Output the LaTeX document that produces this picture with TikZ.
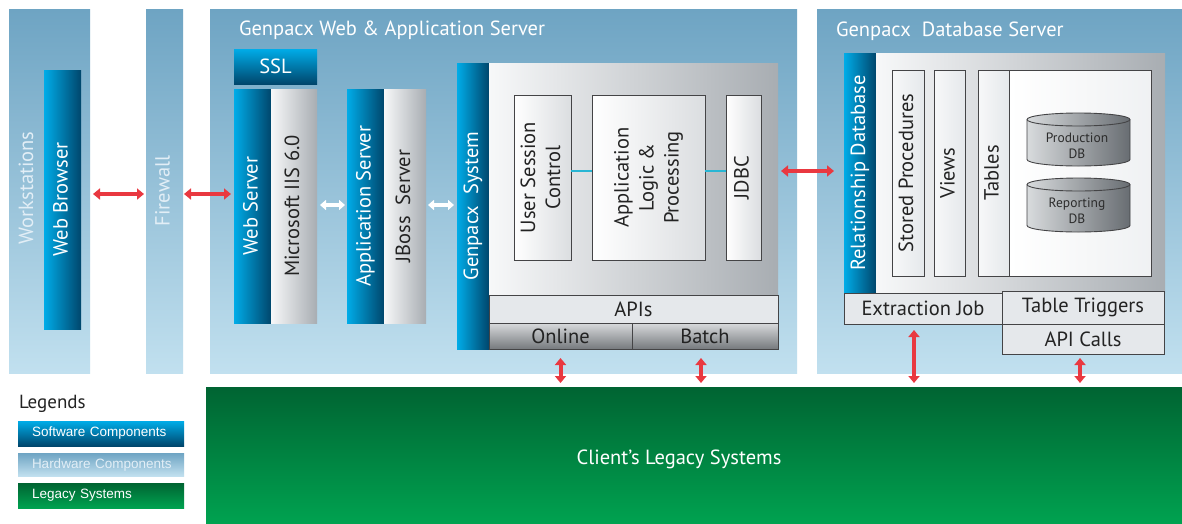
\documentclass[tikz,border=0pt]{standalone}
\usepackage{fontspec}
\setmainfont{PT Sans}
\newfontfamily\legendfont{Liberation Sans}
\usetikzlibrary{positioning,arrows.meta,shadings}

\definecolor{hwtop}{RGB}{110,164,195}
\definecolor{hwbot}{RGB}{193,224,239}
\definecolor{hwtext}{RGB}{226,238,246}
\definecolor{swlight}{RGB}{0,172,232}
\definecolor{swdark}{RGB}{0,70,108}
\definecolor{grlight}{RGB}{247,248,249}
\definecolor{grdark}{RGB}{168,173,178}
\definecolor{boxline}{RGB}{68,68,70}
\definecolor{txtdark}{RGB}{35,35,35}
\definecolor{boxlight}{RGB}{229,232,235}
\definecolor{modetop}{RGB}{216,218,220}
\definecolor{modebot}{RGB}{118,122,126}
\definecolor{legtop}{RGB}{0,100,50}
\definecolor{legbot}{RGB}{0,162,80}
\definecolor{arrred}{RGB}{233,56,64}
\definecolor{linkcyan}{RGB}{40,182,212}
\definecolor{cyllight}{RGB}{216,219,221}
\definecolor{cyldark}{RGB}{104,109,114}

\newcommand{\vlabel}[1]{\rotatebox{90}{\begin{tabular}{@{}c@{}}#1\end{tabular}}}
% drum: centre x, top y, bottom y
\newcommand{\dbdrum}[3]{%
  \path[dbcyl] (#1-51.5,#2+6.5) -- (#1-51.5,#3-6.5)
    arc[start angle=180, end angle=0, x radius=51.5, y radius=6.5] -- (#1+51.5,#2+6.5)
    arc[start angle=0, end angle=-180, x radius=51.5, y radius=6.5] -- cycle;
  \draw[boxline, line width=0.9pt] (#1-51.5,#2+6.5)
    arc[start angle=180, end angle=0, x radius=51.5, y radius=6.5];}

\tikzset{
  every node/.style={inner sep=0pt, outer sep=0pt, font=\fontsize{20.5}{25}\selectfont},
  sz/.style 2 args={minimum width=#1pt, minimum height=#2pt},
  hwpanel/.style={top color=hwtop, bottom color=hwbot, anchor=north west, text=hwtext},
  swbar/.style={left color=swlight, right color=swdark, anchor=north west, text=white},
  swtop/.style={top color=swlight, bottom color=swdark, anchor=north west, text=white},
  grbar/.style={left color=grlight, right color=grdark, anchor=north west, text=txtdark},
  wbox/.style={draw=boxline, line width=0.9pt, left color=white, right color=boxlight!90!gray, anchor=north west, text=txtdark},
  tbox/.style={draw=boxline, line width=0.9pt, left color=white!70!boxlight, right color=boxlight, anchor=north west, text=txtdark},
  apibox/.style={draw=boxline, line width=0.9pt, fill=boxlight, anchor=north west, text=txtdark},
  modebox/.style={draw=boxline, line width=0.9pt, top color=modetop, bottom color=modebot, anchor=north west, text=txtdark},
  dbcyl/.style={draw=boxline, line width=0.9pt, left color=cyllight, right color=cyldark},
  cyltext/.style={align=center, text=txtdark!90!gray, font=\fontsize{13.5}{16.5}\selectfont},
  legacybox/.style={top color=legtop, bottom color=legbot, anchor=north west},
  legitem/.style={anchor=north west, text width=166pt, align=left, text=white,
    execute at begin node=\hspace*{14pt}, font=\legendfont\fontsize{13.5}{16}\selectfont},
  redlink/.style={{Triangle[length=7pt,width=11pt]}-{Triangle[length=7pt,width=11pt]}, line width=4pt, arrred},
  whitelink/.style={{Triangle[length=6pt,width=10pt]}-{Triangle[length=6pt,width=10pt]}, line width=4pt, white},
  cyanlink/.style={line width=1.2pt, linkcyan}
}

\begin{document}
\begin{tikzpicture}[x=1pt, y=-1pt]
\useasboundingbox[fill=white] (0,0) rectangle (1182,523);

% hardware panels
\node[hwpanel, sz={81}{364}] (ws) at (9,9) {};
\node[text=hwtext] (wstxt) at (26,188) {\rotatebox{90}{Workstations}};
\node[swbar, sz={37}{259}] (browser) at (44,70) {\vlabel{Web Browser}};
\node[hwpanel, sz={37}{364}] (fw) at (146,9) {\vlabel{Firewall}};
\node[hwpanel, sz={587}{364}] (was) at (210,9) {};
\node[hwpanel, sz={365}{364}] (dbs) at (817,9) {};
\node[anchor=west, text=white] (wastitle) at (239,30) {Genpacx Web \& Application Server};
\node[anchor=west, text=white] (dbstitle) at (836,31) {Genpacx\ \ Database Server};

% web and application servers
\node[swtop, sz={83}{35}] (ssl) at (234,49) {SSL};
\node[swbar, sz={37}{234}] (websrv) at (234,89) {\vlabel{Web Server}};
\node[grbar, sz={46}{234}, right=0pt of websrv] (iis) {\vlabel{Microsoft IIS 6.0}};
\node[swbar, sz={37}{234}] (appsrv) at (347,89) {\vlabel{Application Server}};
\node[grbar, sz={42}{234}, right=0pt of appsrv] (jboss) {\vlabel{JBoss\ \ Server}};

% genpacx system
\node[swbar, sz={32}{286}] (gsys) at (457,63) {\vlabel{Genpacx\ \ System}};
\node[grbar, sz={289}{232}] (core) at (489,63) {};
\node[wbox, sz={57}{165}] (usc) at (514,95) {\vlabel{User Session\\Control}};
\node[wbox, sz={113}{165}] (alp) at (592,95) {\vlabel{Application\\Logic \&\\Processing}};
\node[wbox, sz={35}{165}] (jdbc) at (726,95) {\vlabel{JDBC}};
\node[apibox, sz={289}{28}] (apis) at (489,295) {APIs};
\node[modebox, sz={143}{26}] (online) at (489,323) {Online};
\node[modebox, sz={146}{26}, right=0pt of online] (batch) {Batch};

% database server
\node[swbar, sz={32}{240}] (rdb) at (844,53) {\vlabel{Relationship Database}};
\node[grbar, sz={289}{240}] (dbcore) at (876,53) {};
\node[tbox, sz={32}{206}] (sp) at (892,70) {\vlabel{Stored Procedures}};
\node[tbox, sz={31}{206}] (views) at (934,70) {\vlabel{Views}};
\node[tbox, sz={31}{206}] (tables) at (978,70) {\vlabel{Tables}};
\node[tbox, sz={142}{206}, right=0pt of tables, left color=white, right color=boxlight!60!white] (store) {};
\dbdrum{1078.5}{113}{166}
\node[cyltext] (prodtxt) at (1077,146) {Production\\DB};
\dbdrum{1078.5}{178}{232}
\node[cyltext] (reptxt) at (1077,211) {Reporting\\DB};
\node[apibox, sz={158}{31}] (ext) at (844,293) {Extraction Job};
\node[apibox, sz={162}{33}] (trig) at (1002,291) {Table Triggers};
\node[apibox, sz={162}{30}, below=0pt of trig] (apic) {API Calls};

% legacy systems
\node[legacybox, sz={976}{136}] (legacy) at (206,387) {};
\node[text=white] (legtxt) at (679,459) {Client’s Legacy Systems};

% legends
\node[anchor=west, text=txtdark, font=\fontsize{19}{21}\selectfont] (legtitle) at (19,404) {Legends};
\node[legitem, swtop, sz={166}{25}] (lsw) at (18,421) {Software Components};
\node[legitem, hwpanel, text=hwtext, sz={166}{23}] (lhw) at (18,453) {Hardware Components};
\node[legitem, legacybox, sz={166}{25}] (llg) at (18,483) {Legacy Systems};

% connectors
\coordinate (yweb) at (0,194);
\coordinate (ywhite) at (0,205);
\coordinate (yjdbc) at (0,171);
\draw[redlink, shorten <=3pt, shorten >=2pt] (ws.east |- yweb) -- (fw.west |- yweb);
\draw[redlink, shorten <=1pt, shorten >=3pt] (fw.east |- yweb) -- (websrv.west |- yweb);
\draw[whitelink, shorten <=3pt, shorten >=2pt] (iis.east |- ywhite) -- (appsrv.west |- ywhite);
\draw[whitelink, shorten <=2pt, shorten >=3pt] (jboss.east |- ywhite) -- (gsys.west |- ywhite);
\draw[cyanlink] (usc.east |- yjdbc) -- (alp.west |- yjdbc);
\draw[cyanlink] (alp.east |- yjdbc) -- (jdbc.west |- yjdbc);
\draw[redlink, shorten <=3pt, shorten >=10pt] (core.east |- yjdbc) -- (rdb.west |- yjdbc);
\draw[redlink, shorten <=9pt, shorten >=4pt] (online.south) -- (online.south |- legacy.north);
\draw[redlink, shorten <=9pt, shorten >=4pt] ([xshift=-4pt]batch.south) -- ([xshift=-4pt]batch.south |- legacy.north);
\draw[redlink, shorten <=6pt, shorten >=4pt] ([xshift=-9pt]ext.south) -- ([xshift=-9pt]ext.south |- legacy.north);
\draw[redlink, shorten <=4pt, shorten >=4pt] ([xshift=-3pt]apic.south) -- ([xshift=-3pt]apic.south |- legacy.north);
\end{tikzpicture}
\end{document}
